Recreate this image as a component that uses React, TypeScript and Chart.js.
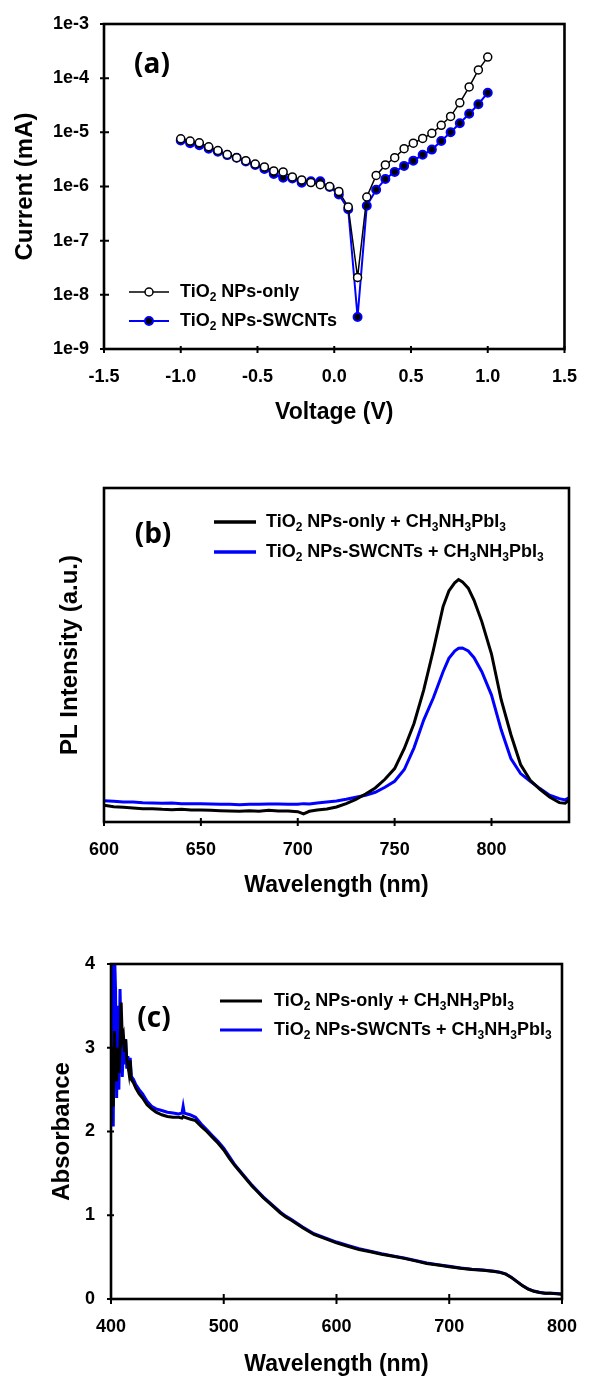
import React, { useEffect, useRef } from "react";
import { Chart, registerables } from "chart.js";

Chart.register(...registerables);

const FONT = "'Liberation Sans', Arial, Helvetica, sans-serif";
const TAG_FONT = "'Open Sans', 'Liberation Sans', sans-serif";
const BLUE = "#0000ff";
const BLACK = "#000000";

// ---------- Panel (a): I-V curves ----------
const voltage = [
  -1.0, -0.939, -0.879, -0.818, -0.758, -0.697, -0.636, -0.576, -0.515, -0.455, -0.394, -0.333,
  -0.273, -0.212, -0.152, -0.091, -0.03, 0.03, 0.091, 0.152, 0.212, 0.273, 0.333, 0.394, 0.455,
  0.515, 0.576, 0.636, 0.697, 0.758, 0.818, 0.879, 0.939, 1.0,
];
const currentNPsOnly = [
  7.6e-6, 6.9e-6, 6.4e-6, 5.4e-6, 4.6e-6, 3.9e-6, 3.4e-6, 3.0e-6, 2.6e-6, 2.3e-6, 1.94e-6, 1.86e-6,
  1.5e-6, 1.32e-6, 1.18e-6, 1.08e-6, 1.0e-6, 8.1e-7, 4.2e-7, 2.1e-8, 6.4e-7, 1.6e-6, 2.5e-6, 3.4e-6,
  5.0e-6, 6.3e-6, 7.7e-6, 9.6e-6, 1.35e-5, 1.97e-5, 3.5e-5, 6.9e-5, 1.42e-4, 2.45e-4,
];
const currentNPsSWCNTs = [
  7.1e-6, 6.3e-6, 5.8e-6, 5.0e-6, 4.4e-6, 3.8e-6, 3.4e-6, 2.9e-6, 2.5e-6, 2.1e-6, 1.7e-6, 1.45e-6,
  1.4e-6, 1.17e-6, 1.25e-6, 1.25e-6, 9.8e-7, 7.1e-7, 3.8e-7, 3.9e-9, 4.4e-7, 8.7e-7, 1.38e-6, 1.86e-6,
  2.4e-6, 3.0e-6, 3.85e-6, 4.8e-6, 6.9e-6, 1.0e-5, 1.47e-5, 2.2e-5, 3.3e-5, 5.4e-5,
];
const voltageTicks = [-1.5, -1.0, -0.5, 0, 0.5, 1.0, 1.5];
const voltageTickLabels = ["-1.5", "-1.0", "-0.5", "0.0", "0.5", "1.0", "1.5"];
const currentTicks = [1e-9, 1e-8, 1e-7, 1e-6, 1e-5, 1e-4, 1e-3];
const currentTickLabels = ["1e-9", "1e-8", "1e-7", "1e-6", "1e-5", "1e-4", "1e-3"];
const legendA = ["TiO_2 NPs-only", "TiO_2 NPs-SWCNTs"];

// ---------- Panel (b): PL spectra ----------
const plWavelength = [
  600, 605, 610, 615, 620, 625, 630, 635, 640, 645, 650, 655, 660, 665, 670, 675, 680, 685, 690, 695,
  700, 703, 706, 710, 715, 720, 725, 730, 735, 740, 745, 750, 755, 760, 765, 770, 775, 778, 781, 783,
  785, 788, 791, 795, 800, 805, 810, 815, 820, 825, 830, 835, 838, 840,
];
const plNPsOnly = [
  50, 46, 44, 42, 40, 40, 38, 37, 38, 36, 36, 35, 34, 33, 32, 34, 32, 35, 33, 33,
  31, 24, 32, 36, 39, 45, 55, 68, 84, 102, 128, 160, 220, 295, 395, 515, 645, 692, 716, 726,
  719, 700, 664, 600, 503, 366, 262, 172, 125, 98, 75, 58, 56, 66,
];
const plNPsSWCNTs = [
  64, 62, 60, 60, 58, 57, 56, 57, 55, 55, 55, 54, 53, 53, 52, 53, 53, 54, 54, 53,
  53, 55, 54, 57, 60, 63, 68, 74, 80, 89, 104, 122, 157, 222, 305, 372, 450, 490, 512, 520,
  521, 512, 492, 450, 380, 276, 190, 145, 122, 100, 80, 70, 66, 72,
];
const plTicks = [600, 650, 700, 750, 800];
const plTickLabels = ["600", "650", "700", "750", "800"];

// ---------- Panel (c): absorbance ----------
const absWavelength = [
  400, 401, 402, 403, 404, 405, 406, 407, 408, 409, 410, 411, 412, 413, 414, 415, 416, 417, 418,
  420, 422, 425, 428, 432, 436, 440, 445, 450, 455, 460, 463, 464, 465, 470,
  475, 480, 485, 490, 495, 500, 505, 510, 515, 520, 525, 530, 535, 540, 545, 550, 555, 560,
  570, 580, 590, 600, 610, 620, 630, 640, 650, 660, 670, 680, 690, 700, 710, 720, 730, 740,
  745, 750, 755, 760, 765, 770, 775, 780, 785, 790, 795, 800,
];
const absNPsOnly = [
  2.1, 3.0, 2.3, 3.2, 2.8, 2.6, 3.0, 2.7, 3.0, 3.54, 3.1, 3.15, 2.95, 3.1, 2.85, 2.8, 2.7, 2.85, 2.62,
  2.58, 2.52, 2.45, 2.4, 2.32, 2.27, 2.23, 2.2, 2.18, 2.17, 2.17, 2.16, 2.18, 2.17, 2.15,
  2.13, 2.06, 2.0, 1.93, 1.86, 1.78, 1.68, 1.59, 1.51, 1.43, 1.35, 1.28, 1.21, 1.15, 1.09, 1.03, 0.98, 0.94,
  0.85, 0.77, 0.72, 0.67, 0.63, 0.59, 0.565, 0.535, 0.51, 0.485, 0.455, 0.425, 0.405, 0.385, 0.367, 0.352, 0.342, 0.328,
  0.318, 0.298, 0.258, 0.208, 0.158, 0.118, 0.093, 0.078, 0.068, 0.068, 0.063, 0.058,
];
const absNPsSWCNTs = [
  2.9, 4.2, 2.06, 4.2, 3.7, 2.4, 3.5, 2.5, 3.7, 3.1, 2.65, 3.05, 2.8, 3.1, 2.75, 2.9, 2.72, 2.88, 2.66,
  2.62, 2.56, 2.5, 2.45, 2.36, 2.3, 2.27, 2.25, 2.23, 2.22, 2.21, 2.22, 2.3, 2.22, 2.2,
  2.17, 2.09, 2.02, 1.95, 1.88, 1.8, 1.7, 1.6, 1.52, 1.44, 1.36, 1.29, 1.22, 1.16, 1.1, 1.04, 0.99, 0.95,
  0.86, 0.78, 0.73, 0.68, 0.64, 0.6, 0.57, 0.54, 0.515, 0.49, 0.46, 0.43, 0.41, 0.39, 0.37, 0.355, 0.345, 0.33,
  0.32, 0.3, 0.26, 0.21, 0.16, 0.12, 0.095, 0.08, 0.07, 0.07, 0.065, 0.06,
];
const absXTicks = [400, 500, 600, 700, 800];
const absXTickLabels = ["400", "500", "600", "700", "800"];
const absYTicks = [0, 1, 2, 3, 4];
const absYTickLabels = ["0", "1", "2", "3", "4"];
const legendBC = ["TiO_2 NPs-only + CH_3NH_3PbI_3", "TiO_2 NPs-SWCNTs + CH_3NH_3PbI_3"];

// ---------- helpers ----------
const tickFont = { family: FONT, size: 18, weight: "bold" as const, lineHeight: 1 };
const xTitleFont = { family: FONT, size: 23, weight: "bold" as const, lineHeight: 1 };
const yTitleFont = { family: FONT, size: 24, weight: "bold" as const, lineHeight: 1 };
const MARKER_R = 4;

type LegendRow = { y: number; text: string; color: string; width: number; marker?: "open" | "filled" };
type Deco = {
  id: string;
  tag: string;
  tagX: number;
  tagY: number;
  xTicks: number[];
  xIn: number;
  xOut: number;
  yTicks: number[];
  yIn: number;
  yOut: number;
  legX0: number;
  legX1: number;
  legTextX: number;
  rows: LegendRow[];
};

function richText(ctx: CanvasRenderingContext2D, text: string, x: number, y: number, size: number) {
  const parts = text.split(/(_\d)/);
  let cx = x;
  for (const p of parts) {
    if (!p) continue;
    if (p[0] === "_") {
      const s = p.slice(1);
      ctx.font = `bold ${Math.round(size * 0.64)}px ${FONT}`;
      ctx.fillText(s, cx, y + size * 0.34);
      cx += ctx.measureText(s).width;
    } else {
      ctx.font = `bold ${size}px ${FONT}`;
      ctx.fillText(p, cx, y);
      cx += ctx.measureText(p).width;
    }
  }
}

function makeDeco(d: Deco) {
  return {
    id: d.id,
    afterDraw(chart: any) {
      const { ctx, chartArea, scales } = chart;
      const { left, right, top, bottom } = chartArea;
      ctx.save();
      ctx.strokeStyle = BLACK;
      ctx.lineWidth = 2;
      ctx.beginPath();
      for (const v of d.xTicks) {
        const px = scales.x.getPixelForValue(v);
        ctx.moveTo(px, bottom - d.xIn);
        ctx.lineTo(px, bottom + d.xOut);
      }
      for (const v of d.yTicks) {
        const py = scales.y.getPixelForValue(v);
        ctx.moveTo(left - d.yOut, py);
        ctx.lineTo(left + d.yIn, py);
      }
      ctx.stroke();
      ctx.lineWidth = 2.6;
      ctx.strokeRect(left, top, right - left, bottom - top);

      ctx.fillStyle = BLACK;
      ctx.font = `bold 28px ${TAG_FONT}`;
      ctx.textAlign = "center";
      ctx.textBaseline = "middle";
      ctx.fillText(d.tag, d.tagX, d.tagY);

      ctx.textAlign = "left";
      for (const r of d.rows) {
        ctx.strokeStyle = r.color;
        ctx.lineWidth = r.width;
        ctx.beginPath();
        ctx.moveTo(d.legX0, r.y);
        ctx.lineTo(d.legX1, r.y);
        ctx.stroke();
        if (r.marker) {
          const mx = (d.legX0 + d.legX1) / 2;
          ctx.beginPath();
          ctx.arc(mx, r.y, MARKER_R, 0, Math.PI * 2);
          ctx.fillStyle = r.marker === "open" ? "#ffffff" : BLACK;
          ctx.fill();
          ctx.lineWidth = r.marker === "open" ? 1.5 : 2;
          ctx.strokeStyle = r.color;
          ctx.stroke();
        }
        ctx.fillStyle = BLACK;
        richText(ctx, r.text, d.legTextX, r.y, 18);
      }
      ctx.restore();
    },
  };
}

function xAxis(min: number, max: number, ticks: number[], labels: string[], title: string, titlePad: number, height: number) {
  return {
    type: "linear",
    min,
    max,
    afterBuildTicks: (s: any) => {
      s.ticks = ticks.map((v) => ({ value: v }));
    },
    afterFit: (s: any) => {
      s.height = height;
    },
    ticks: {
      callback: (_v: any, i: number) => labels[i],
      font: tickFont,
      color: BLACK,
      padding: 19,
      maxRotation: 0,
      autoSkip: false,
    },
    grid: { display: false, drawTicks: false },
    border: { display: false },
    title: { display: true, text: title, font: xTitleFont, color: BLACK, padding: { top: 0, bottom: titlePad } },
  };
}

function yAxis(opts: {
  type: string;
  min: number;
  max: number;
  ticks: number[];
  labels: string[];
  show: boolean;
  pad: number;
  title: string;
  titlePad: number;
  width: number;
}) {
  return {
    type: opts.type,
    min: opts.min,
    max: opts.max,
    afterBuildTicks: (s: any) => {
      s.ticks = opts.ticks.map((v) => ({ value: v }));
    },
    afterFit: (s: any) => {
      s.width = opts.width;
    },
    ticks: {
      display: opts.show,
      callback: (_v: any, i: number) => opts.labels[i],
      font: tickFont,
      color: BLACK,
      padding: opts.pad,
      autoSkip: false,
    },
    grid: { display: false, drawTicks: false },
    border: { display: false },
    title: { display: true, text: opts.title, font: yTitleFont, color: BLACK, padding: { top: opts.titlePad, bottom: 0 } },
  };
}

const baseOptions = (padding: any) => ({
  animation: false,
  responsive: false,
  events: [],
  layout: { padding },
  plugins: { legend: { display: false }, tooltip: { enabled: false } },
});

function configA(): any {
  return {
    type: "line",
    data: {
      datasets: [
        {
          label: legendA[0],
          data: voltage.map((v, i) => ({ x: v, y: currentNPsOnly[i] })),
          borderColor: BLACK,
          borderWidth: 1.5,
          pointRadius: MARKER_R,
          pointBackgroundColor: "#ffffff",
          pointBorderColor: BLACK,
          pointBorderWidth: 1.5,
          tension: 0,
        },
        {
          label: legendA[1],
          data: voltage.map((v, i) => ({ x: v, y: currentNPsSWCNTs[i] })),
          borderColor: BLUE,
          borderWidth: 2,
          pointRadius: MARKER_R,
          pointBackgroundColor: BLACK,
          pointBorderColor: BLUE,
          pointBorderWidth: 2,
          tension: 0,
        },
      ],
    },
    options: {
      ...baseOptions({ left: 0, right: 30, top: 16, bottom: 0 }),
      scales: {
        x: xAxis(-1.5, 1.5, voltageTicks, voltageTickLabels, "Voltage (V)", 15.5, 440 - 349),
        y: yAxis({
          type: "logarithmic",
          min: 1e-9,
          max: 1e-3,
          ticks: currentTicks,
          labels: currentTickLabels,
          show: true,
          pad: 15,
          title: "Current (mA)",
          titlePad: 13.5,
          width: 104,
        }),
      },
    },
    plugins: [
      makeDeco({
        id: "decoA",
        tag: "(a)",
        tagX: 152,
        tagY: 65,
        xTicks: voltageTicks,
        xIn: 3,
        xOut: 4,
        yTicks: currentTicks,
        yIn: 5,
        yOut: 4,
        legX0: 129,
        legX1: 169,
        legTextX: 180,
        rows: [
          { y: 292, text: legendA[0], color: BLACK, width: 1.5, marker: "open" },
          { y: 321, text: legendA[1], color: BLUE, width: 2, marker: "filled" },
        ],
      }),
    ],
  };
}

function configB(): any {
  return {
    type: "line",
    data: {
      datasets: [
        {
          label: legendBC[0],
          data: plWavelength.map((v, i) => ({ x: v, y: plNPsOnly[i] })),
          borderColor: BLACK,
          borderWidth: 3,
          pointRadius: 0,
          tension: 0,
        },
        {
          label: legendBC[1],
          data: plWavelength.map((v, i) => ({ x: v, y: plNPsSWCNTs[i] })),
          borderColor: BLUE,
          borderWidth: 3,
          pointRadius: 0,
          tension: 0,
        },
      ],
    },
    options: {
      ...baseOptions({ left: 0, right: 27, top: 48, bottom: 0 }),
      scales: {
        x: xAxis(600, 840, plTicks, plTickLabels, "Wavelength (nm)", 2.5, 460 - 382),
        y: yAxis({
          type: "linear",
          min: 0,
          max: 1000,
          ticks: [],
          labels: [],
          show: false,
          pad: 10,
          title: "PL Intensity (a.u.)",
          titlePad: 58,
          width: 104,
        }),
      },
    },
    plugins: [
      makeDeco({
        id: "decoB",
        tag: "(b)",
        tagX: 153,
        tagY: 95,
        xTicks: plTicks,
        xIn: 4,
        xOut: 4,
        yTicks: [],
        yIn: 0,
        yOut: 0,
        legX0: 214,
        legX1: 256,
        legTextX: 266,
        rows: [
          { y: 82, text: legendBC[0], color: BLACK, width: 3.5 },
          { y: 112, text: legendBC[1], color: BLUE, width: 3.5 },
        ],
      }),
    ],
  };
}

function configC(): any {
  return {
    type: "line",
    data: {
      datasets: [
        {
          label: legendBC[0],
          data: absWavelength.map((v, i) => ({ x: v, y: absNPsOnly[i] })),
          borderColor: BLACK,
          borderWidth: 3,
          pointRadius: 0,
          tension: 0,
        },
        {
          label: legendBC[1],
          data: absWavelength.map((v, i) => ({ x: v, y: absNPsSWCNTs[i] })),
          borderColor: BLUE,
          borderWidth: 3,
          pointRadius: 0,
          tension: 0,
        },
      ],
    },
    options: {
      ...baseOptions({ left: 0, right: 20, top: 64, bottom: 0 }),
      scales: {
        x: xAxis(400, 800, absXTicks, absXTickLabels, "Wavelength (nm)", 1.5, 478 - 399),
        y: yAxis({
          type: "linear",
          min: 0,
          max: 4,
          ticks: absYTicks,
          labels: absYTickLabels,
          show: true,
          pad: 16,
          title: "Absorbance",
          titlePad: 50,
          width: 111,
        }),
      },
    },
    plugins: [
      makeDeco({
        id: "decoC",
        tag: "(c)",
        tagX: 154,
        tagY: 119,
        xTicks: absXTicks,
        xIn: 5,
        xOut: 5,
        yTicks: absYTicks,
        yIn: 3,
        yOut: 4,
        legX0: 220,
        legX1: 262,
        legTextX: 274,
        rows: [
          { y: 101, text: legendBC[0], color: BLACK, width: 3 },
          { y: 130, text: legendBC[1], color: BLUE, width: 3 },
        ],
      }),
    ],
  };
}

function Panel({ top, height, make }: { top: number; height: number; make: () => any }) {
  const ref = useRef<HTMLCanvasElement>(null);
  useEffect(() => {
    const chart = new Chart(ref.current as HTMLCanvasElement, make());
    return () => chart.destroy();
  }, []);
  return (
    <canvas
      ref={ref}
      width={596}
      height={height}
      style={{ position: "absolute", left: 0, top, width: 596, height, display: "block" }}
    />
  );
}

export default function App() {
  return (
    <div style={{ position: "absolute", left: 0, top: 0, width: 596, height: 1378, background: "#fff", overflow: "hidden" }}>
      <Panel top={0} height={440} make={configA} />
      <Panel top={440} height={460} make={configB} />
      <Panel top={900} height={478} make={configC} />
    </div>
  );
}
